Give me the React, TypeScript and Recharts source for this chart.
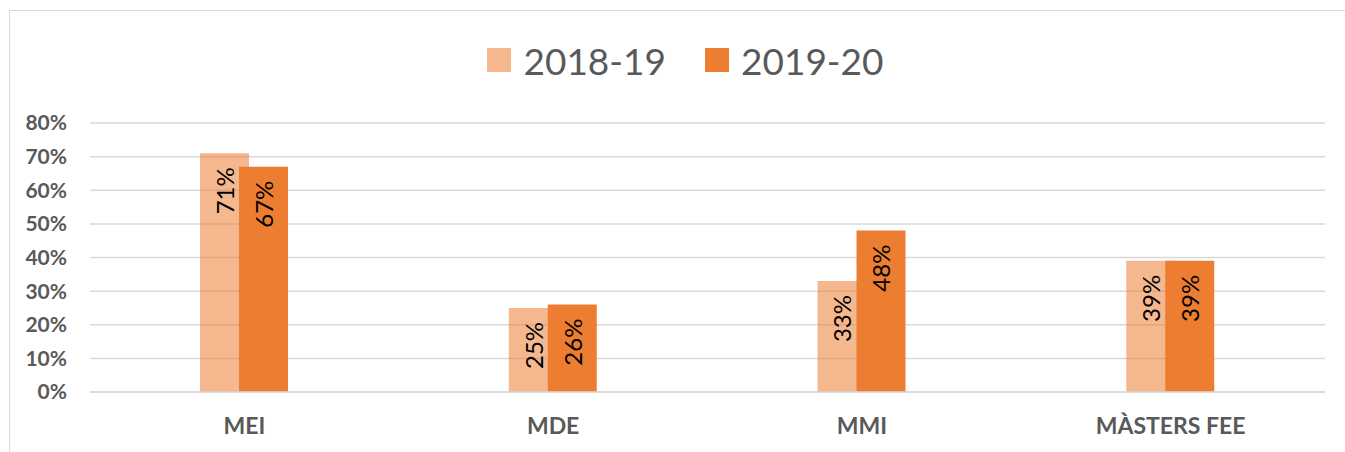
import React from "react";
import { BarChart, Bar, XAxis, YAxis, CartesianGrid, Legend, LabelList } from "recharts";

const categories = ["MEI", "MDE", "MMI", "MÀSTERS FEE"];
const values1819 = [71, 25, 33, 39];
const values1920 = [67, 26, 48, 39];
const yTicks = [0, 10, 20, 30, 40, 50, 60, 70, 80];

const series = [
  { key: "y1819", name: "2018-19", color: "#ED7D31", opacity: 0.55 },
  { key: "y1920", name: "2019-20", color: "#ED7D31", opacity: 1 },
];

const data = categories.map((name, i) => ({
  name,
  y1819: values1819[i],
  y1920: values1920[i],
}));

const FONT = "Lato, 'Open Sans', sans-serif";
const GREY = "#595959";

const renderValueLabel = (props: any) => {
  const { x, y, width, value } = props;
  const cx = x + width / 2;
  const ty = y + 14;
  return (
    <text
      x={cx}
      y={ty}
      transform={`rotate(-90 ${cx} ${ty})`}
      textAnchor="end"
      dominantBaseline="central"
      fill="#000"
      style={{ fontFamily: FONT, fontSize: 24 }}
    >
      {`${value}%`}
    </text>
  );
};

const renderLegend = () => (
  <div
    style={{
      width: 1331,
      height: 40,
      display: "flex",
      justifyContent: "center",
      alignItems: "center",
      paddingLeft: 20,
      boxSizing: "border-box",
      fontFamily: FONT,
      fontSize: 37,
      color: GREY,
    }}
  >
    {series.map((s, i) => (
      <div key={s.key} style={{ display: "flex", alignItems: "center", marginLeft: i > 0 ? 39 : 0 }}>
        <span
          style={{
            display: "inline-block",
            width: 24,
            height: 24,
            background: s.color,
            opacity: s.opacity,
            marginRight: 12,
          }}
        />
        <span>{s.name}</span>
      </div>
    ))}
  </div>
);

export default function App() {
  return (
    <div
      style={{
        position: "absolute",
        left: 9,
        top: 10,
        width: 1336,
        height: 450,
        borderTop: "1px solid #D9D9D9",
        borderLeft: "1px solid #D9D9D9",
        background: "#fff",
        overflow: "hidden",
      }}
    >
      <BarChart
        width={1331}
        height={440}
        data={data}
        margin={{ top: 72, right: 16, bottom: 29, left: 0 }}
        barSize={49}
        barGap={-10}
      >
        <CartesianGrid vertical={false} stroke="#D9D9D9" strokeWidth={1.5} />
        <Legend
          verticalAlign="top"
          height={40}
          content={renderLegend}
          wrapperStyle={{ top: 29, left: 0, width: 1331 }}
        />
        <XAxis
          dataKey="name"
          axisLine={{ stroke: "#D9D9D9", strokeWidth: 1.5 }}
          tickLine={false}
          tickMargin={20}
          tick={{ fill: GREY, fontFamily: FONT, fontSize: 23, fontWeight: 700 }}
        />
        <YAxis
          width={80}
          domain={[0, 80]}
          ticks={yTicks}
          axisLine={false}
          tickLine={false}
          tickMargin={17}
          tickFormatter={(v: number) => `${v}%`}
          tick={{ fill: GREY, fontFamily: FONT, fontSize: 21, fontWeight: 700 }}
        />
        {series.map((s) => (
          <Bar
            key={s.key}
            dataKey={s.key}
            name={s.name}
            fill={s.color}
            fillOpacity={s.opacity}
            isAnimationActive={false}
          >
            <LabelList dataKey={s.key} content={renderValueLabel} />
          </Bar>
        ))}
      </BarChart>
    </div>
  );
}
